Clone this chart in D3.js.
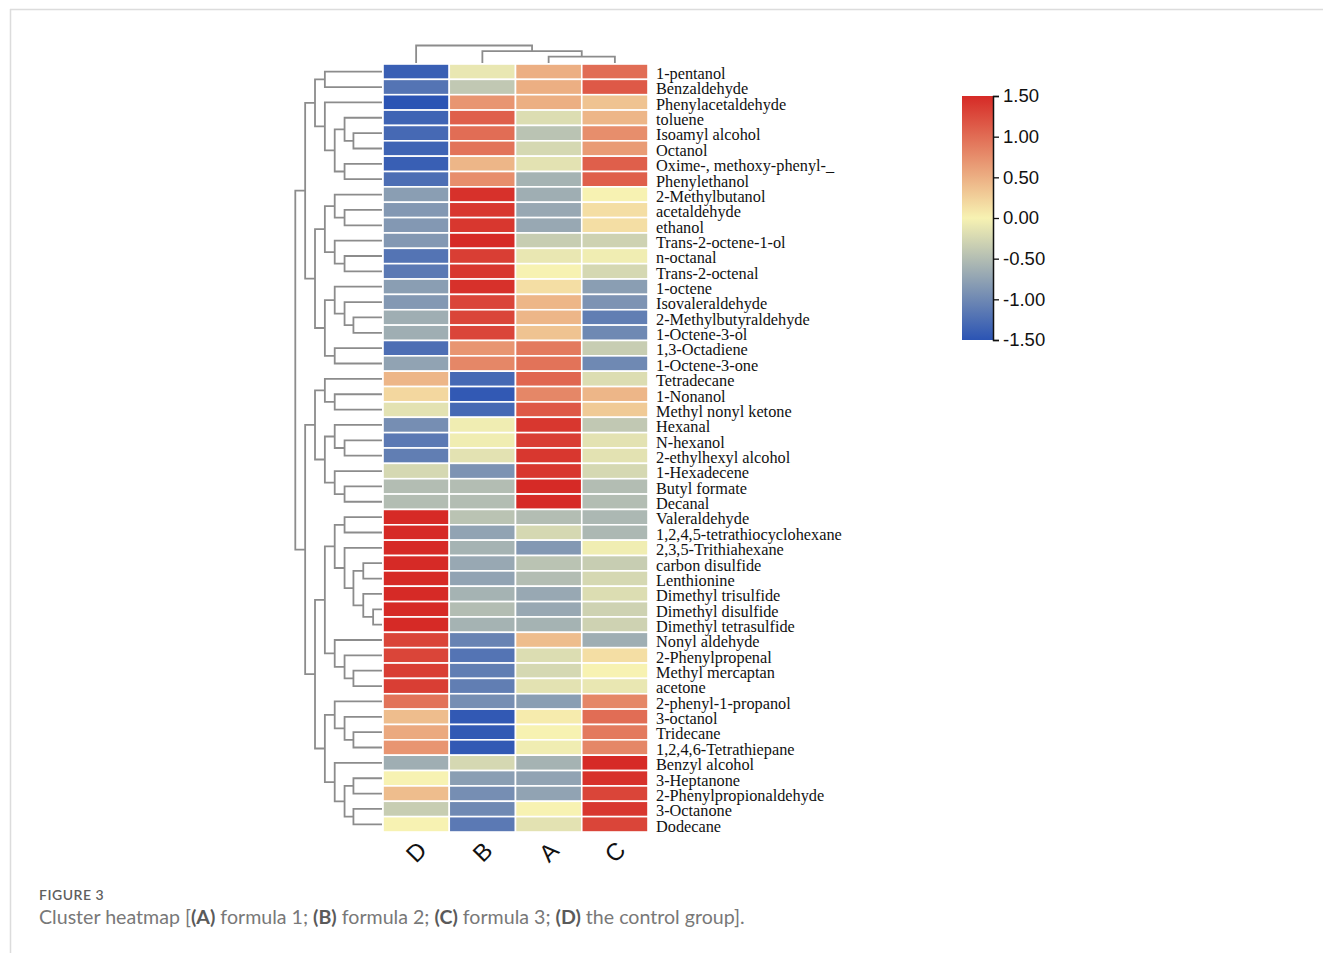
<!DOCTYPE html>
<html>
<head>
<meta charset="utf-8">
<script src="https://cdn.jsdelivr.net/npm/d3@7"></script>
<style>
  html, body { margin: 0; padding: 0; background: #fff; }
  svg { display: block; }
</style>
</head>
<body>
<svg id="chart" width="1323" height="953"></svg>
<script>
// ---------------- DATA ----------------
const rowLabels = [
  "1-pentanol","Benzaldehyde","Phenylacetaldehyde","toluene","Isoamyl alcohol","Octanol",
  "Oxime-, methoxy-phenyl-_","Phenylethanol","2-Methylbutanol","acetaldehyde","ethanol",
  "Trans-2-octene-1-ol","n-octanal","Trans-2-octenal","1-octene","Isovaleraldehyde",
  "2-Methylbutyraldehyde","1-Octene-3-ol","1,3-Octadiene","1-Octene-3-one","Tetradecane",
  "1-Nonanol","Methyl nonyl ketone","Hexanal","N-hexanol","2-ethylhexyl alcohol",
  "1-Hexadecene","Butyl formate","Decanal","Valeraldehyde","1,2,4,5-tetrathiocyclohexane",
  "2,3,5-Trithiahexane","carbon disulfide","Lenthionine","Dimethyl trisulfide",
  "Dimethyl disulfide","Dimethyl tetrasulfide","Nonyl aldehyde","2-Phenylpropenal",
  "Methyl mercaptan","acetone","2-phenyl-1-propanol","3-octanol","Tridecane",
  "1,2,4,6-Tetrathiepane","Benzyl alcohol","3-Heptanone","2-Phenylpropionaldehyde",
  "3-Octanone","Dodecane"
];
const colLabels = ["D", "B", "A", "C"];

// row z-scores per column (same order as rowLabels)
const valuesD = [-1.4,-1.2,-1.5,-1.35,-1.3,-1.35,-1.4,-1.25,-0.8,-0.85,-0.85,-0.85,-1.2,-1.15,-0.8,-0.85,-0.65,-0.65,-1.25,-0.75,
  0.45,0.2,-0.15,-0.95,-1.15,-1.1,-0.25,-0.5,-0.5,1.5,1.5,1.5,1.5,1.5,1.5,1.5,1.5,1.3,1.3,1.35,1.35,
  0.95,0.4,0.55,0.7,-0.65,0.0,0.4,-0.35,0.0];
const valuesB = [-0.1,-0.4,0.7,1.1,1.0,0.95,0.45,0.75,1.45,1.4,1.4,1.5,1.35,1.4,1.45,1.3,1.3,1.3,0.7,0.8,
  -1.3,-1.45,-1.3,-0.05,-0.05,-0.15,-0.9,-0.5,-0.5,-0.45,-0.75,-0.6,-0.7,-0.75,-0.6,-0.5,-0.6,-1.05,-1.2,-1.1,-1.1,
  -0.95,-1.45,-1.45,-1.45,-0.25,-0.8,-0.95,-1.0,-1.15];
const valuesA = [0.5,0.5,0.5,-0.2,-0.45,-0.25,-0.15,-0.6,-0.65,-0.7,-0.7,-0.35,-0.1,0.0,0.15,0.45,0.45,0.35,0.9,0.95,
  1.05,0.8,1.15,1.4,1.35,1.4,1.4,1.5,1.5,-0.5,-0.25,-0.85,-0.45,-0.5,-0.7,-0.7,-0.6,0.4,-0.2,-0.25,-0.15,
  -0.8,0.05,0.0,-0.05,-0.6,-0.75,-0.75,0.0,-0.15];
const valuesC = [1.0,1.15,0.35,0.45,0.75,0.65,1.1,1.1,0.0,0.15,0.15,-0.3,-0.05,-0.25,-0.8,-0.9,-1.1,-1.0,-0.35,-1.0,
  -0.2,0.45,0.3,-0.4,-0.15,-0.15,-0.25,-0.5,-0.5,-0.55,-0.55,-0.05,-0.35,-0.25,-0.2,-0.3,-0.3,-0.65,0.15,0.0,-0.1,
  0.8,1.0,0.9,0.8,1.5,1.45,1.3,1.4,1.3];

// row dendrogram: [mergeHeight, left, right]; leaves are row indices
const rowTree = [8.8,
  [7.8,
    [6.8, [5.8, 0, 1], [5.8, 2, [4.8, [3.8, 3, [2.9, 4, 5]], [3.8, 6, 7]]]],
    [6.8, [5.8, [4.8, 8, [3.8, 9, 10]], [4.8, 11, [3.8, 12, 13]]],
          [5.8, [4.8, 14, [3.8, 15, [2.9, 16, 17]]], [4.8, 18, 19]]]],
  [7.8,
    [6.8, [5.8, 20, [4.8, 21, 22]], [5.8, [4.8, 23, [3.8, 24, 25]], [4.8, 26, [3.8, 27, 28]]]],
    [6.8, [5.8, [4.8, [3.8, 29, 30], [3.8, 31, [2.9, [1.9, 32, 33], [1.9, 34, [0.9, 35, 36]]]]],
               [4.8, 37, [3.8, 38, [2.9, 39, 40]]]],
          [5.8, [4.8, 41, [3.8, 42, [2.9, 43, 44]]],
                [4.8, 45, [3.8, [2.9, 46, 47], [2.9, 48, 49]]]]]]];
// column dendrogram (leaves are column indices)
const colTree = [3.0, 0, [2.05, 1, [1.1, 2, 3]]];

const legendTicks = [1.5, 1.0, 0.5, 0.0, -0.5, -1.0, -1.5];
const colorStops = ["#2b54b4", "#f7f2b2", "#d62a26"];

const captionTitle = "FIGURE 3";
const captionParts = [
  {t: "Cluster heatmap [", b: false}, {t: "(A)", b: true}, {t: " formula 1; ", b: false},
  {t: "(B)", b: true}, {t: " formula 2; ", b: false}, {t: "(C)", b: true},
  {t: " formula 3; ", b: false}, {t: "(D)", b: true}, {t: " the control group].", b: false}
];

// ---------------- LAYOUT ----------------
const svg = d3.select("#chart");
const hm = {left: 383, right: 648, top: 64, bottom: 832};

// frame lines
svg.append("line").attr("x1", 10).attr("x2", 1323).attr("y1", 9.5).attr("y2", 9.5)
  .attr("stroke", "#dcdcdc").attr("stroke-width", 1.5);
svg.append("line").attr("x1", 10.5).attr("x2", 10.5).attr("y1", 9).attr("y2", 953)
  .attr("stroke", "#dcdcdc").attr("stroke-width", 1.5);

const x = d3.scaleBand().domain(colLabels).range([hm.left, hm.right]);
const y = d3.scaleBand().domain(d3.range(rowLabels.length)).range([hm.top, hm.bottom]);
const color = d3.scaleLinear().domain([-1.5, 0, 1.5]).range(colorStops).clamp(true);

const series = {D: valuesD, B: valuesB, A: valuesA, C: valuesC};
const cells = [];
rowLabels.forEach((r, i) => colLabels.forEach(c => cells.push({r: i, c, v: series[c][i]})));

svg.append("g").selectAll("rect").data(cells).join("rect")
  .attr("x", d => x(d.c)).attr("y", d => y(d.r))
  .attr("width", x.bandwidth()).attr("height", y.bandwidth())
  .attr("fill", d => color(d.v))
  .attr("stroke", "#fff").attr("stroke-width", 1.6);

// row labels
svg.append("g").selectAll("text").data(rowLabels).join("text")
  .attr("x", 656).attr("y", (d, i) => y(i) + y.bandwidth() / 2)
  .attr("dy", "0.45em")
  .attr("font-family", "'Liberation Serif', 'Times New Roman', serif")
  .attr("font-size", 16.3).attr("fill", "#111")
  .text(d => d);

// column labels
svg.append("g").selectAll("text").data(colLabels).join("text")
  .attr("transform", d => `translate(${x(d) + x.bandwidth() / 2},852) rotate(-45)`)
  .attr("text-anchor", "middle").attr("dy", "0.35em")
  .attr("font-family", "'Liberation Sans', Arial, sans-serif")
  .attr("font-size", 24).attr("fill", "#111")
  .text(d => d);

// ---------------- DENDROGRAMS ----------------
const dendroColor = "#8c8c8c";
const rowH = d3.scaleLinear().domain([0, 8.8]).range([hm.left - 1, 295.3]);
const rowPos = i => y(i) + y.bandwidth() / 2;
const rowG = svg.append("g").attr("fill", "none").attr("stroke", dendroColor).attr("stroke-width", 1.8);
function drawRow(node) {
  if (typeof node === "number") return {p: rowPos(node), h: 0};
  const [h, a, b] = node;
  const l = drawRow(a), r = drawRow(b);
  const p = d3.path();
  p.moveTo(rowH(l.h), l.p); p.lineTo(rowH(h), l.p); p.lineTo(rowH(h), r.p); p.lineTo(rowH(r.h), r.p);
  rowG.append("path").attr("d", p.toString());
  return {p: (l.p + r.p) / 2, h};
}
drawRow(rowTree);

const colH = d3.scaleLinear().domain([0, 3.0]).range([hm.top - 1, 45.5]);
const colPos = i => x(colLabels[i]) + x.bandwidth() / 2;
const colG = svg.append("g").attr("fill", "none").attr("stroke", dendroColor).attr("stroke-width", 1.8);
function drawCol(node) {
  if (typeof node === "number") return {p: colPos(node), h: 0};
  const [h, a, b] = node;
  const l = drawCol(a), r = drawCol(b);
  const p = d3.path();
  p.moveTo(l.p, colH(l.h)); p.lineTo(l.p, colH(h)); p.lineTo(r.p, colH(h)); p.lineTo(r.p, colH(r.h));
  colG.append("path").attr("d", p.toString());
  return {p: (l.p + r.p) / 2, h};
}
drawCol(colTree);

// ---------------- LEGEND ----------------
const lg = {x: 962, w: 31, top: 96, bottom: 340};
const defs = svg.append("defs");
const grad = defs.append("linearGradient").attr("id", "lgGrad")
  .attr("x1", 0).attr("y1", 1).attr("x2", 0).attr("y2", 0);
colorStops.forEach((c, i) => grad.append("stop").attr("offset", i / (colorStops.length - 1)).attr("stop-color", c));
svg.append("rect").attr("x", lg.x).attr("y", lg.top).attr("width", lg.w).attr("height", lg.bottom - lg.top)
  .attr("fill", "url(#lgGrad)");
const lScale = d3.scaleLinear().domain([-1.5, 1.5]).range([lg.bottom, lg.top]);
const lAxis = svg.append("g").attr("transform", `translate(${lg.x + lg.w},0)`)
  .call(d3.axisRight(lScale).tickValues(legendTicks).tickSize(6).tickPadding(4)
    .tickFormat(d => d3.format(".2f")(d).replace("\u2212", "-")));
lAxis.select(".domain").attr("stroke", "#111").attr("stroke-width", 1.5);
lAxis.selectAll(".tick line").attr("stroke", "#111").attr("stroke-width", 1.3);
lAxis.selectAll(".tick text").attr("font-family", "'Liberation Sans', Arial, sans-serif")
  .attr("font-size", 18.5).attr("fill", "#111");

// ---------------- CAPTION ----------------
svg.append("text").attr("x", 39).attr("y", 900)
  .attr("font-family", "Lato, 'Open Sans', sans-serif").attr("font-size", 14)
  .attr("letter-spacing", 0.5).attr("fill", "#5f5f5f").attr("font-weight", 600)
  .text(captionTitle);
const cap = svg.append("text").attr("x", 39).attr("y", 924)
  .attr("font-family", "Lato, 'Open Sans', sans-serif").attr("font-size", 18).attr("fill", "#787878");
cap.selectAll("tspan").data(captionParts).join("tspan")
  .attr("font-weight", d => d.b ? 700 : 400)
  .attr("fill", d => d.b ? "#5a5a5a" : "#787878")
  .text(d => d.t);
// fit caption to reference width
const capW = cap.node().getComputedTextLength();
if (capW > 0) cap.attr("font-size", 18 * 706 / capW);
</script>
</body>
</html>
